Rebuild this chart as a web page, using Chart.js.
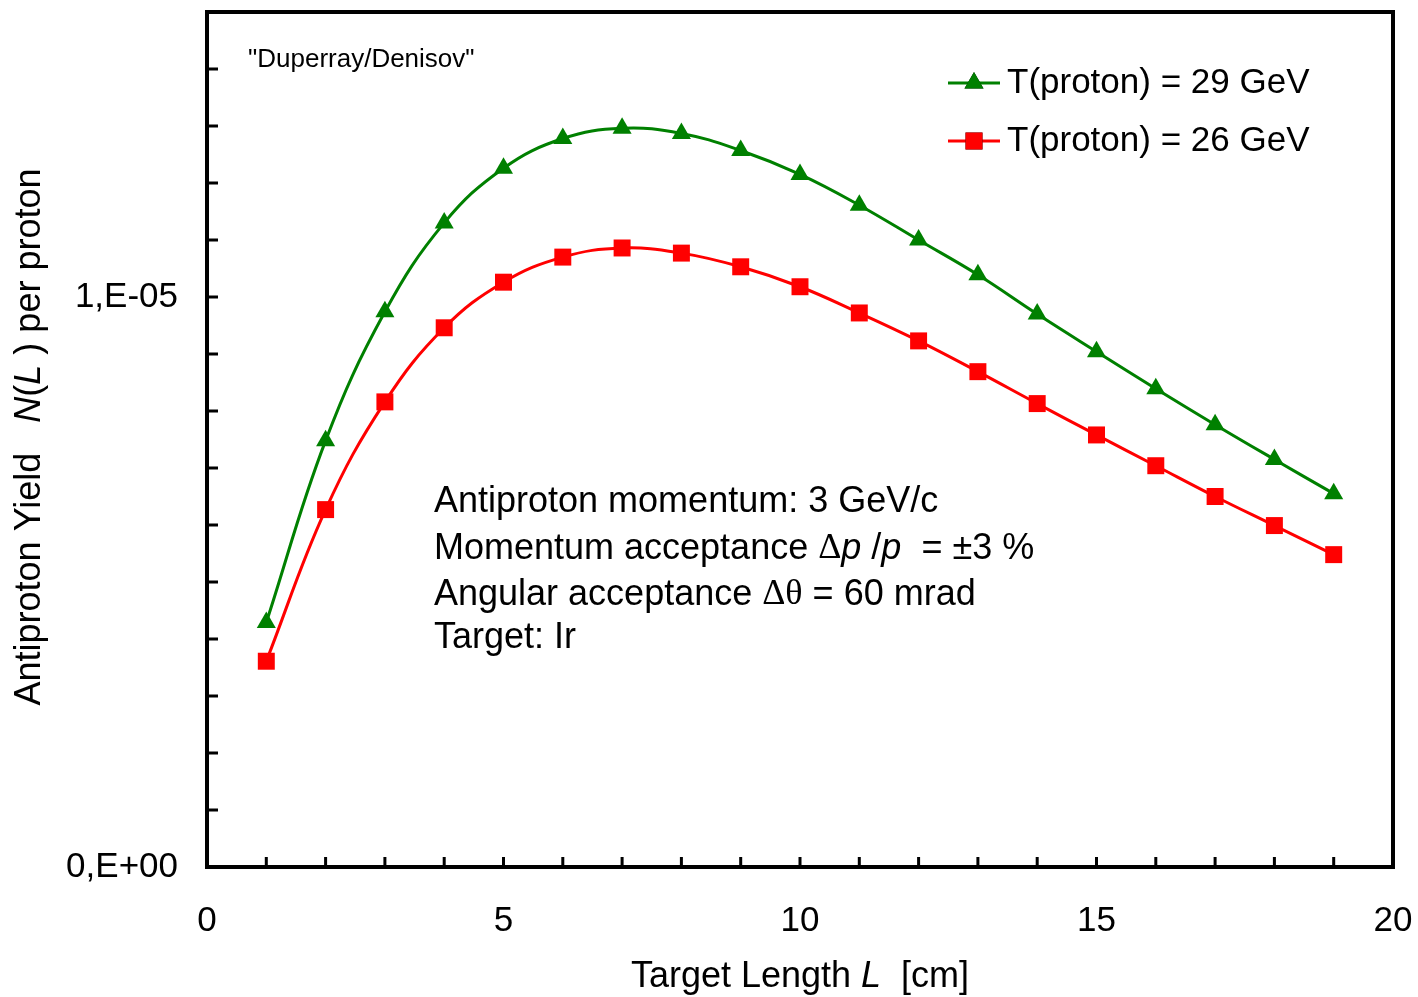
<!DOCTYPE html>
<html>
<head>
<meta charset="utf-8">
<script src="https://cdn.jsdelivr.net/npm/chart.js@4/dist/chart.umd.min.js"></script>
<style>
  html, body { margin: 0; padding: 0; background: #fff; }
  #wrap { width: 1418px; height: 997px; }
</style>
</head>
<body>
<div id="wrap"><canvas id="yieldChart" width="1418" height="997"></canvas></div>
<script>
// target length L [cm]
const lengths = [1, 2, 3, 4, 5, 6, 7, 8, 9, 10, 11, 12, 13, 14, 15, 16, 17, 18, 19];
// antiproton yield per proton, T = 29 GeV
const yield29 = [4.29e-6, 7.48e-6, 9.74e-6, 11.30e-6, 12.26e-6, 12.78e-6, 12.96e-6, 12.87e-6, 12.57e-6, 12.15e-6,
                 11.61e-6, 11.00e-6, 10.39e-6, 9.70e-6, 9.04e-6, 8.39e-6, 7.76e-6, 7.15e-6, 6.55e-6];
// antiproton yield per proton, T = 26 GeV
const yield26 = [3.61e-6, 6.27e-6, 8.16e-6, 9.46e-6, 10.26e-6, 10.70e-6, 10.86e-6, 10.77e-6, 10.53e-6, 10.18e-6,
                 9.72e-6, 9.23e-6, 8.69e-6, 8.13e-6, 7.58e-6, 7.04e-6, 6.50e-6, 5.99e-6, 5.48e-6];
const seriesLabels = ['T(proton) = 29 GeV', 'T(proton) = 26 GeV'];
const yLabelled = [0, 1e-5];

const FONT = '"Liberation Sans", Arial, sans-serif';
const SERIF = '"Liberation Serif", "Times New Roman", serif';
const GREEN = '#008000';
const RED = '#ff0000';

// draws a run of text pieces, each with its own font
function drawRuns(ctx, runs, x, y, align) {
    let total = 0;
    runs.forEach(r => { ctx.font = r.font; total += ctx.measureText(r.text).width; });
    let cx = align === 'center' ? x - total / 2 : x;
    ctx.textAlign = 'left';
    runs.forEach(r => {
        ctx.font = r.font;
        ctx.fillText(r.text, cx, y);
        cx += ctx.measureText(r.text).width;
    });
}

const framePlugin = {
    id: 'frame',
    afterDraw(chart) {
        const ctx = chart.ctx;
        const area = chart.chartArea;
        const xs = chart.scales.x, ys = chart.scales.y;
        ctx.save();
        ctx.strokeStyle = '#000';
        ctx.fillStyle = '#000';

        // box
        ctx.lineWidth = 4;
        ctx.strokeRect(area.left, area.top, area.right - area.left, area.bottom - area.top);

        // inside tick marks
        ctx.lineWidth = 3;
        ctx.beginPath();
        for (let v = 1; v < 20; v++) {
            const px = xs.getPixelForValue(v);
            ctx.moveTo(px, area.bottom);
            ctx.lineTo(px, area.bottom - 10);
        }
        for (let k = 1; k < 15; k++) {
            const py = ys.getPixelForValue(k * 1e-6);
            ctx.moveTo(area.left, py);
            ctx.lineTo(area.left + 11, py);
        }
        ctx.stroke();

        ctx.textBaseline = 'middle';
        const n = '36px ' + FONT, it = 'italic 36px ' + FONT;

        // x title
        drawRuns(ctx, [{ text: 'Target Length ', font: n }, { text: 'L', font: it }, { text: '  [cm]', font: n }],
                 (area.left + area.right) / 2, 977, 'center');

        // y title
        ctx.save();
        ctx.translate(30, 437);
        ctx.rotate(-Math.PI / 2);
        drawRuns(ctx, [{ text: 'Antiproton Yield   ', font: n }, { text: 'N', font: it }, { text: '(', font: n },
                       { text: 'L', font: it }, { text: ' ) per proton', font: n }], 0, 0, 'center');
        ctx.restore();

        // source note
        ctx.font = '26px ' + FONT;
        ctx.textAlign = 'left';
        ctx.fillText('"Duperray/Denisov"', 248, 60);

        // parameters
        const sym = '36px ' + SERIF;
        drawRuns(ctx, [{ text: 'Antiproton momentum: 3 GeV/c', font: n }], 434, 502);
        drawRuns(ctx, [{ text: 'Momentum acceptance ', font: n }, { text: '\u0394', font: sym }, { text: 'p', font: it },
                       { text: ' /', font: n }, { text: 'p', font: it }, { text: '  = \u00b13 %', font: n }], 434, 549);
        drawRuns(ctx, [{ text: 'Angular acceptance ', font: n }, { text: '\u0394\u03b8', font: sym },
                       { text: ' = 60 mrad', font: n }], 434, 595);
        drawRuns(ctx, [{ text: 'Target: Ir', font: n }], 434, 638);

        // legend
        chart.data.datasets.forEach((ds, i) => {
            const ly = 83 + i * 58;
            ctx.strokeStyle = ds.borderColor;
            ctx.lineWidth = 3;
            ctx.beginPath();
            ctx.moveTo(948, ly);
            ctx.lineTo(1000, ly);
            ctx.stroke();
            Chart.helpers.drawPoint(ctx, {
                pointStyle: ds.pointStyle, radius: ds.pointRadius, borderWidth: 0
            }, 974, ly);
            ctx.fillStyle = ds.pointBackgroundColor;
            ctx.fill();
            ctx.fillStyle = '#000';
            ctx.font = '35px ' + FONT;
            ctx.textAlign = 'left';
            ctx.fillText(ds.label, 1007, ly);
        });
        ctx.restore();
    }
};

new Chart(document.getElementById('yieldChart').getContext('2d'), {
    type: 'line',
    data: {
        labels: lengths,
        datasets: [{
            label: seriesLabels[0],
            data: lengths.map((l, i) => ({ x: l, y: yield29[i] })),
            borderColor: GREEN,
            backgroundColor: GREEN,
            pointBackgroundColor: GREEN,
            pointBorderWidth: 0,
            pointStyle: 'triangle',
            pointRadius: 11,
            borderWidth: 3,
            tension: 0.4
        }, {
            label: seriesLabels[1],
            data: lengths.map((l, i) => ({ x: l, y: yield26[i] })),
            borderColor: RED,
            backgroundColor: RED,
            pointBackgroundColor: RED,
            pointBorderWidth: 0,
            pointStyle: 'rect',
            pointRadius: 12,
            borderWidth: 3,
            tension: 0.4
        }]
    },
    options: {
        responsive: false,
        animation: false,
        layout: { padding: { left: 0, top: 12, right: 25, bottom: 0 } },
        plugins: {
            legend: { display: false },
            tooltip: { enabled: false }
        },
        scales: {
            x: {
                type: 'linear',
                min: 0,
                max: 20,
                grid: { display: false, drawTicks: false },
                border: { display: false },
                ticks: { stepSize: 5, padding: 33, maxRotation: 0, color: '#000', font: { family: FONT, size: 35 } },
                afterFit(scale) {
                    scale.height = 130;
                    scale.paddingLeft = 0;
                    scale.paddingRight = 0;
                }
            },
            y: {
                type: 'linear',
                min: 0,
                max: 1.5e-5,
                grid: { display: false, drawTicks: false },
                border: { display: false },
                ticks: {
                    stepSize: 1e-6,
                    padding: 29,
                    color: '#000',
                    font: { family: FONT, size: 35 },
                    callback(value) {
                        if (Math.abs(value - yLabelled[0]) < 1e-9) return '0,E+00';
                        if (Math.abs(value - yLabelled[1]) < 1e-9) return '1,E-05';
                        return '';
                    }
                },
                afterFit(scale) {
                    scale.width = 207;
                    scale.paddingTop = 0;
                    scale.paddingBottom = 0;
                }
            }
        }
    },
    plugins: [framePlugin]
});
</script>
</body>
</html>
